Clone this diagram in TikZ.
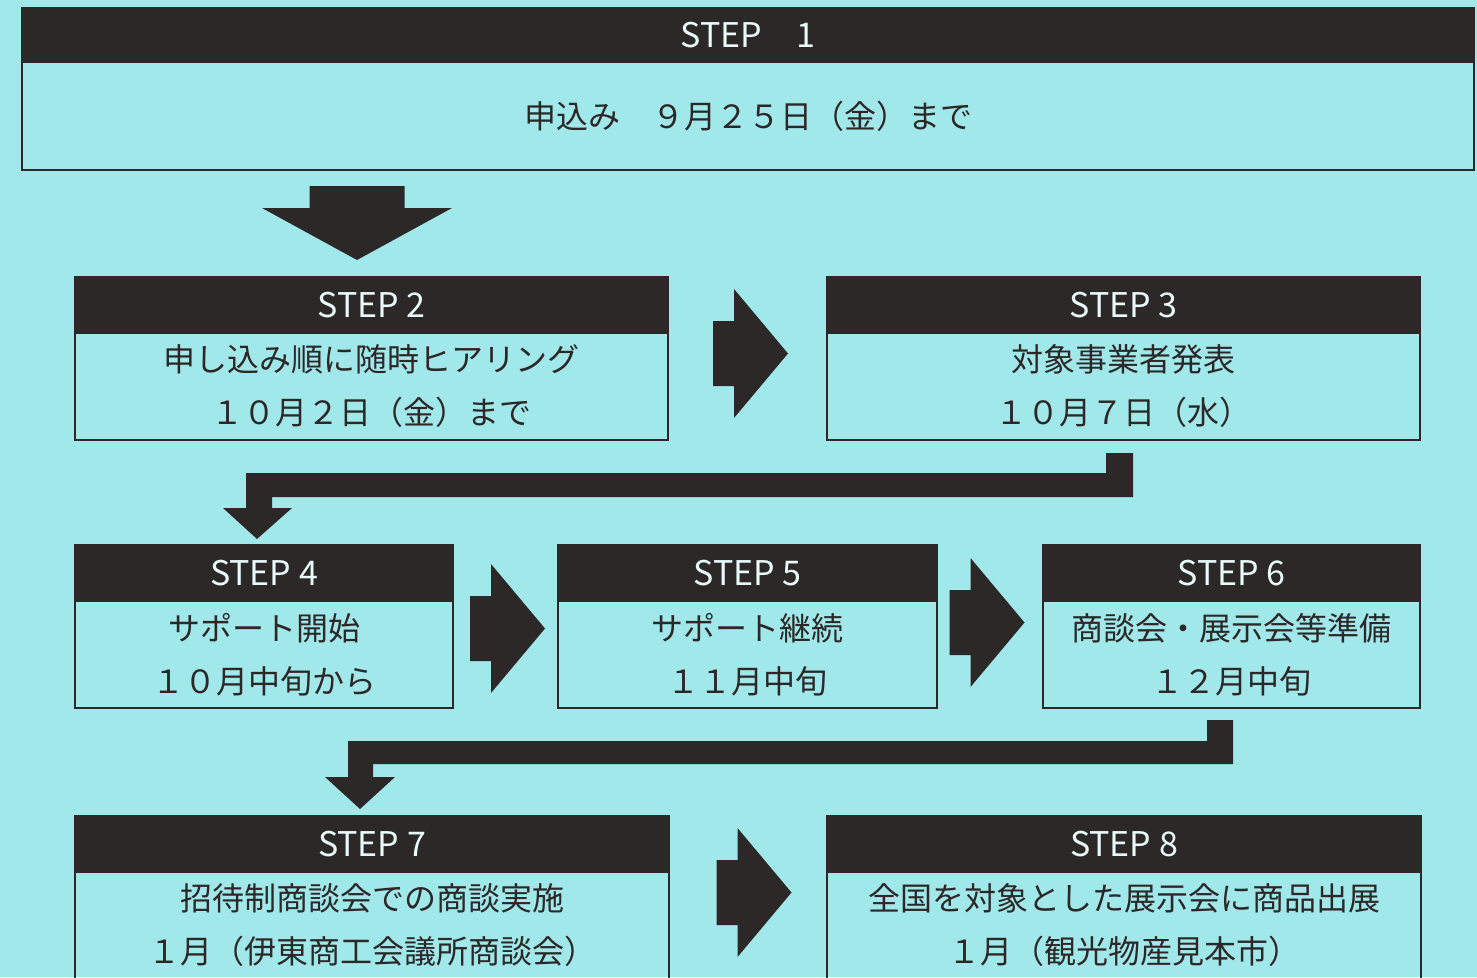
\documentclass[tikz,border=0pt]{standalone}
\usepackage{fontspec}
\setmainfont{Noto Sans CJK JP}
\usetikzlibrary{calc}
\definecolor{bgc}{RGB}{161,232,235}
\definecolor{ink}{RGB}{45,40,40}
\definecolor{hdrtext}{RGB}{232,250,250}
\tikzset{
  hdr/.style={rectangle, draw=ink, fill=ink, line width=1.6pt, outer sep=0pt,
    minimum height=56pt, text=hdrtext, font=\fontsize{34}{34}\selectfont},
  bodyb/.style={rectangle, draw=ink, line width=1.6pt, outer sep=0pt,
    minimum height=107pt, align=center, text=ink, font=\fontsize{32}{53}\selectfont},
  blk/.style={fill=ink},
  rarr/.pic={\fill[blk] (-37.5,-32.5) -- (-16.5,-32.5) -- (-16.5,-64.5) -- (37.5,0)
    -- (-16.5,64.5) -- (-16.5,32.5) -- (-37.5,32.5) -- cycle;},
  darr/.pic={\fill[blk] (-47.5,-37) -- (47.5,-37) -- (47.5,-15) -- (95,-15)
    -- (0,37) -- (-95,-15) -- (-47.5,-15) -- cycle;}
}
\begin{document}
\begin{tikzpicture}[x=1pt,y=-1pt]
  \useasboundingbox (0,0) rectangle (1477,977);
  \fill[bgc] (0,0) rectangle (1477,977);
  \clip (0,0) rectangle (1477,977);
  % step boxes
  \node[hdr, minimum width=1452pt, minimum height=54pt, anchor=north west] (s1h) at (22,8) {STEP　1};
  \node[bodyb, minimum width=1452pt, minimum height=108pt, anchor=north west] (s1) at (s1h.south west) {申込み　９月２５日（金）まで};
  \node[hdr, minimum width=593pt, anchor=north west] (s2h) at (75,277) {STEP 2};
  \node[bodyb, minimum width=593pt, anchor=north west] (s2) at (s2h.south west) {申し込み順に随時ヒアリング\\１０月２日（金）まで};
  \node[hdr, minimum width=593pt, anchor=north west] (s3h) at (827,277) {STEP 3};
  \node[bodyb, minimum width=593pt, anchor=north west] (s3) at (s3h.south west) {対象事業者発表\\１０月７日（水）};
  \node[hdr, minimum width=378pt, anchor=north west] (s4h) at (75,545) {STEP 4};
  \node[bodyb, minimum width=378pt, anchor=north west] (s4) at (s4h.south west) {サポート開始\\１０月中旬から};
  \node[hdr, minimum width=379pt, anchor=north west] (s5h) at (558,545) {STEP 5};
  \node[bodyb, minimum width=379pt, anchor=north west] (s5) at (s5h.south west) {サポート継続\\１１月中旬};
  \node[hdr, minimum width=377pt, anchor=north west] (s6h) at (1043,545) {STEP 6};
  \node[bodyb, minimum width=377pt, anchor=north west] (s6) at (s6h.south west) {商談会・展示会等準備\\１２月中旬};
  \node[hdr, minimum width=594pt, anchor=north west] (s7h) at (75,816) {STEP 7};
  \node[bodyb, minimum width=594pt, anchor=north west] (s7) at (s7h.south west) {招待制商談会での商談実施\\１月（伊東商工会議所商談会）};
  \node[hdr, minimum width=594pt, anchor=north west] (s8h) at (827,816) {STEP 8};
  \node[bodyb, minimum width=594pt, anchor=north west] (s8) at (s8h.south west) {全国を対象とした展示会に商品出展\\１月（観光物産見本市）};
  % arrows
  \pic at (357,223) {darr};
  \pic at ($(s2h.north east)!0.5!(s3.south west)+(3,-5)$) {rarr};
  \pic at ($(s4h.north east)!0.5!(s5.south west)+(2,2)$) {rarr};
  \pic at ($(s5h.north east)!0.5!(s6.south west)+(-3,-4)$) {rarr};
  \pic at ($(s7h.north east)!0.5!(s8.south west)+(6,-5)$) {rarr};
  \fill[blk] (1106,453) -- (1133,453) -- (1133,497) -- (272,497) -- (272,508) -- (292,508)
    -- (257,539) -- (223,508) -- (246,508) -- (246,473) -- (1106,473) -- cycle;
  \fill[blk] (1207,720) -- (1233,720) -- (1233,764) -- (373,764) -- (373,777) -- (395,777)
    -- (360,809) -- (325,777) -- (348,777) -- (348,741) -- (1207,741) -- cycle;
\end{tikzpicture}
\end{document}
